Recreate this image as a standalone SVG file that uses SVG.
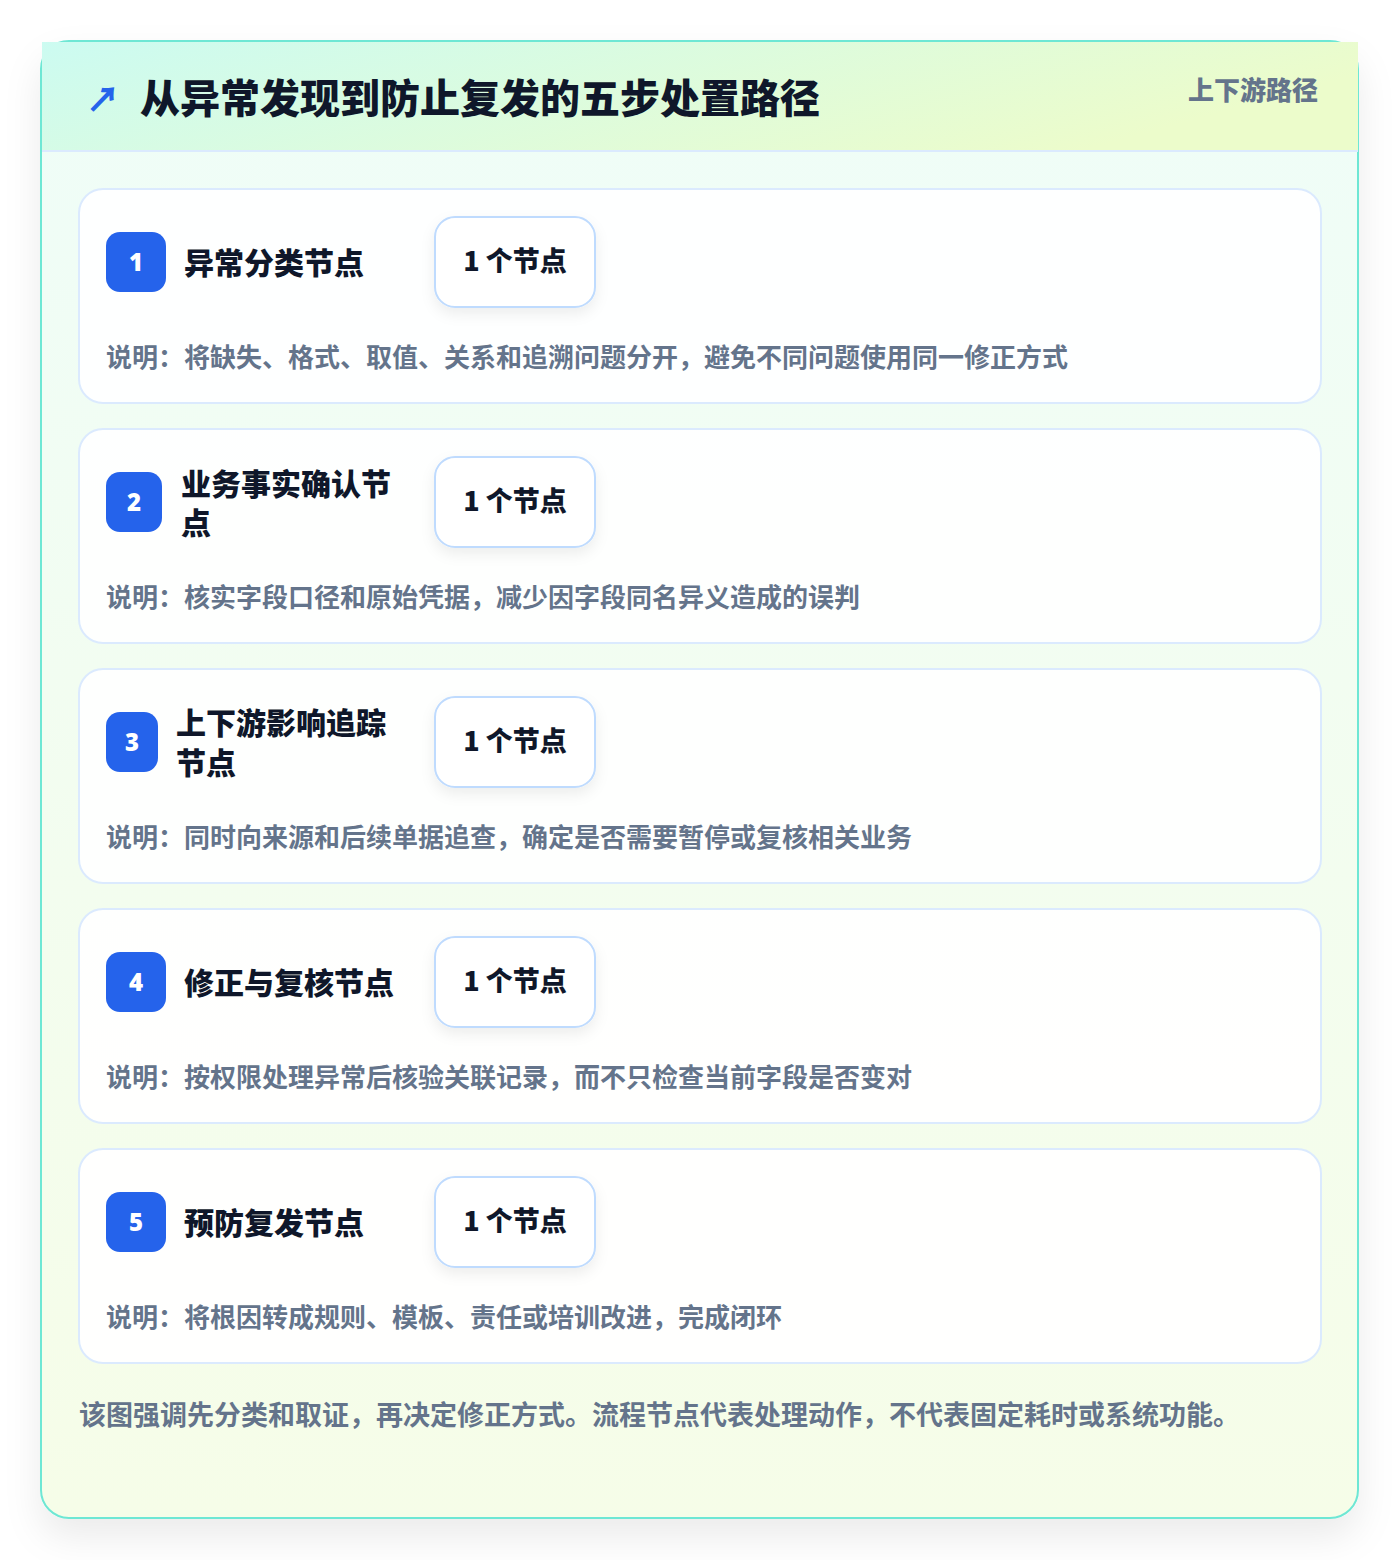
<svg xmlns="http://www.w3.org/2000/svg" width="1400" height="1560" viewBox="0 0 1400 1560">
<defs>
  <linearGradient id="hdr" x1="0" y1="0" x2="1" y2="0.3">
    <stop offset="0" stop-color="#ccfbf1"/>
    <stop offset="1" stop-color="#ecfccb"/>
  </linearGradient>
  <linearGradient id="body" x1="0" y1="0" x2="0" y2="1">
    <stop offset="0" stop-color="#effdf8"/>
    <stop offset="1" stop-color="#f6fde8"/>
  </linearGradient>
  <filter id="outerShadow" x="-10%" y="-10%" width="120%" height="120%">
    <feDropShadow dx="0" dy="18" stdDeviation="18" flood-color="#0f172a" flood-opacity="0.08"/>
  </filter>
  <filter id="pillShadow" x="-20%" y="-20%" width="140%" height="150%">
    <feDropShadow dx="0" dy="6" stdDeviation="7" flood-color="#0f172a" flood-opacity="0.07"/>
  </filter>
  <style>
    .t { font-family: "Noto Sans CJK SC", "Noto Sans", sans-serif; }
    .card { fill: #ffffff; fill-opacity: 0.92; stroke: #dbeafe; stroke-width: 2; }
    .badge { fill: #2563eb; }
    .num { font-family: "Noto Sans", "Noto Sans CJK SC", sans-serif; font-weight: 900; font-size: 24px; fill: #ffffff; text-anchor: middle; dominant-baseline: central; }
    .title { font-weight: 900; font-size: 30px; fill: #0f172a; dominant-baseline: central; }
    .pill { fill: #ffffff; stroke: #bfdbfe; stroke-width: 2; }
    .pilltxt { font-weight: 900; font-size: 27px; fill: #0f172a; text-anchor: middle; dominant-baseline: central; }
    .desc { font-weight: 700; font-size: 26px; fill: #64748b; dominant-baseline: central; }
  </style>
</defs>

<g id="frame">
  <rect x="41" y="41" width="1317" height="1477" rx="28" fill="url(#body)" stroke="#6ee7d4" stroke-width="2" filter="url(#outerShadow)"/>
  <rect x="42" y="42" width="1316" height="109" fill="url(#hdr)"/>
  <line x1="42" y1="151" x2="1358" y2="151" stroke="#dbeafe" stroke-width="2"/>
</g>

<g id="header">
  <text class="t" x="86" y="97" font-size="34" font-weight="900" fill="#2563eb" dominant-baseline="central">↗</text>
  <text class="t" x="140" y="96" font-size="40" font-weight="900" fill="#0f172a" dominant-baseline="central">从异常发现到防止复发的五步处置路径</text>
  <text class="t" x="1318" y="88" font-size="26" font-weight="800" fill="#64748b" text-anchor="end" dominant-baseline="central">上下游路径</text>
</g>

<g id="step1">
  <rect class="card" x="79" y="189" width="1242" height="214" rx="24"/>
  <rect class="badge" x="106" y="232" width="60" height="60" rx="14"/>
  <text class="num" x="136" y="261">1</text>
  <text class="t title" x="184" y="261">异常分类节点</text>
  <rect class="pill" x="435" y="217" width="160" height="90" rx="20" filter="url(#pillShadow)"/>
  <text class="t pilltxt" x="515" y="259">1 个节点</text>
  <text class="t desc" x="106" y="355">说明：将缺失、格式、取值、关系和追溯问题分开，避免不同问题使用同一修正方式</text>
</g>

<g id="step2">
  <rect class="card" x="79" y="429" width="1242" height="214" rx="24"/>
  <rect class="badge" x="106" y="472" width="56" height="60" rx="14"/>
  <text class="num" x="134" y="501">2</text>
  <text class="t title" x="181" y="482">业务事实确认节</text>
  <text class="t title" x="181" y="521">点</text>
  <rect class="pill" x="435" y="457" width="160" height="90" rx="20" filter="url(#pillShadow)"/>
  <text class="t pilltxt" x="515" y="499">1 个节点</text>
  <text class="t desc" x="106" y="595">说明：核实字段口径和原始凭据，减少因字段同名异义造成的误判</text>
</g>

<g id="step3">
  <rect class="card" x="79" y="669" width="1242" height="214" rx="24"/>
  <rect class="badge" x="106" y="712" width="52" height="60" rx="14"/>
  <text class="num" x="132" y="741">3</text>
  <text class="t title" x="176" y="721">上下游影响追踪</text>
  <text class="t title" x="176" y="761">节点</text>
  <rect class="pill" x="435" y="697" width="160" height="90" rx="20" filter="url(#pillShadow)"/>
  <text class="t pilltxt" x="515" y="739">1 个节点</text>
  <text class="t desc" x="106" y="835">说明：同时向来源和后续单据追查，确定是否需要暂停或复核相关业务</text>
</g>

<g id="step4">
  <rect class="card" x="79" y="909" width="1242" height="214" rx="24"/>
  <rect class="badge" x="106" y="952" width="60" height="60" rx="14"/>
  <text class="num" x="136" y="981">4</text>
  <text class="t title" x="184" y="981">修正与复核节点</text>
  <rect class="pill" x="435" y="937" width="160" height="90" rx="20" filter="url(#pillShadow)"/>
  <text class="t pilltxt" x="515" y="979">1 个节点</text>
  <text class="t desc" x="106" y="1075">说明：按权限处理异常后核验关联记录，而不只检查当前字段是否变对</text>
</g>

<g id="step5">
  <rect class="card" x="79" y="1149" width="1242" height="214" rx="24"/>
  <rect class="badge" x="106" y="1192" width="60" height="60" rx="14"/>
  <text class="num" x="136" y="1221">5</text>
  <text class="t title" x="184" y="1221">预防复发节点</text>
  <rect class="pill" x="435" y="1177" width="160" height="90" rx="20" filter="url(#pillShadow)"/>
  <text class="t pilltxt" x="515" y="1219">1 个节点</text>
  <text class="t desc" x="106" y="1315">说明：将根因转成规则、模板、责任或培训改进，完成闭环</text>
</g>

<g id="connectors"></g>

<g id="footer">
  <text class="t" x="79" y="1413" font-size="27" font-weight="700" fill="#64748b" dominant-baseline="central">该图强调先分类和取证，再决定修正方式。流程节点代表处理动作，不代表固定耗时或系统功能。</text>
</g>
</svg>
